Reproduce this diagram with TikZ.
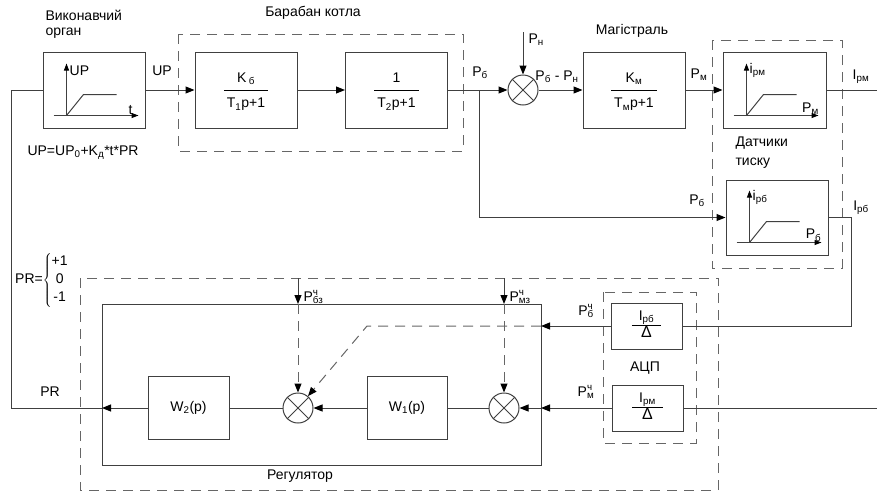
\documentclass[tikz,border=0pt]{standalone}
\usepackage{fontspec}
\setmainfont{Liberation Sans}
\usetikzlibrary{arrows.meta}

\setlength{\arrayrulewidth}{1pt}
\newcommand{\ind}[1]{\textsubscript{#1}}
\newcommand{\pch}[1]{P\rlap{\textsuperscript{ч}}\textsubscript{#1}}
\newcommand{\drib}[2]{{\renewcommand{\arraystretch}{1.55}%
  \begin{tabular}{@{\hspace{3pt}}c@{\hspace{3pt}}}#1\\\hline #2\end{tabular}}}
\newcommand{\acp}[1]{{\renewcommand{\arraystretch}{0.9}%
  \begin{tabular}{@{\hspace{7pt}}c@{\hspace{7pt}}}I\ind{#1}\\\hline\rule{0pt}{12pt}{\fontsize{16}{16}\selectfont Δ}\end{tabular}}}
% grafik v bloku: #1 blok, #2 vis y, #3 vis x
\newcommand{\grafik}[3]{%
  \begin{scope}[shift={(#1.south west)}]
    \draw[lin,-{Triangle[length=7pt,width=5pt,color=black]}] (11,-13) -- (96,-13);
    \draw[lin,-{Triangle[length=7pt,width=5pt,color=black]}] (24,-13) -- (24,-65);
    \draw[lin] (24,-13) -- (41,-34) -- (74,-34);
    \node[anchor=west,inner sep=1pt] at (26,-58) {#2};
    \node[anchor=south,inner sep=1pt] at (88,-13) {#3};
  \end{scope}}

\begin{document}
\begin{tikzpicture}[x=1pt,y=-1pt,font=\fontsize{14}{16}\selectfont,
  lin/.style={draw=black!75,line width=1pt},
  zv/.style={lin,-{Triangle[length=9pt,width=7pt,color=black]}},
  blok/.style={lin,minimum width=102pt,minimum height=76pt,inner sep=0pt},
  blokw/.style={lin,minimum width=81pt,minimum height=63pt,inner sep=0pt},
  blokc/.style={lin,minimum width=71pt,minimum height=46pt,inner sep=0pt},
  sum/.style={lin,circle,minimum size=30pt,inner sep=0pt},
  ramka/.style={draw=black!60,line width=1pt,dash pattern=on 10pt off 7pt},
  shtrih/.style={zv,draw=black!60,dash pattern=on 10pt off 7pt}]
\useasboundingbox (0,0) rectangle (877,493);

% ramky
\draw[ramka] (178,34) rectangle (463,151);
\draw[ramka] (712,40) rectangle (842,268);
\draw[ramka] (80,278) rectangle (718,490);
\draw[ramka] (603,292) rectangle (696,443);
\draw[lin] (102,304) rectangle (541,465);

% ob'ekt
\node[blok] (vo) at (94,90) {};
\node[blok] (k1) at (246,90) {\drib{K\,\ind{б}}{T\ind{1}p+1}};
\node[blok] (k2) at (396.5,90) {\drib{1}{T\ind{2}p+1}};
\node[sum] (s1) at (523,90) {};
\node[blok] (mg) at (634,90) {\drib{K\ind{м}}{T\ind{м}p+1}};
\node[blok,minimum width=103pt] (d1) at (774.5,90) {};
\node[blok,minimum height=75pt] (d2) at (777,217.5) {};
\grafik{vo}{UP}{t}
\grafik{d1}{i\ind{рм}}{P\ind{м}}
\grafik{d2}{i\ind{рб}}{P\ind{б}}

% regulator
\node[blokw] (w2) at (188.5,408) {W\ind{2}(p)};
\node[sum] (s2) at (298,408) {};
\node[blokw,minimum width=80pt] (w1) at (407,408) {W\ind{1}(p)};
\node[sum] (s3) at (504,408) {};
\node[blokc] (a1) at (646.5,326) {\acp{рб}};
\node[blokc] (a2) at (647.5,408) {\acp{рм}};
\foreach \s in {s1,s2,s3}
  \draw[lin] (\s.north east) -- (\s.south west) (\s.north west) -- (\s.south east);

\coordinate (br) at (479,90);
\coordinate (pn) at (523,32);
\coordinate (out1) at (877,90);
\coordinate (out2) at (877,408);
\coordinate (kr) at (851,326);
\coordinate (vx1) at (541,326);
\coordinate (vx2) at (541,408);
\coordinate (vx3) at (102,408);
\coordinate (kl) at (11,408);
\coordinate (kd) at (367,326);
\coordinate (zb) at (298,278);
\coordinate (vb) at (298,304);
\coordinate (zm) at (504,278);
\coordinate (vm) at (504,304);

% zv'iazky
\draw[zv] (vo) -- (k1);
\draw[zv] (k1) -- (k2);
\draw[zv] (k2) -- (s1);
\draw[zv] (pn) -- (s1);
\draw[zv] (s1) -- (mg);
\draw[zv] (mg) -- (d1);
\draw[lin] (d1) -- (out1);
\draw[zv] (br) |- (d2);
\draw[lin] (d2) -| (kr) -- (a1);
\draw[lin] (out2) -- (a2);
\draw[zv] (a1) -- (vx1);
\draw[zv] (a2) -- (vx2);
\draw[zv] (vx2) -- (s3);
\draw[lin] (s3) -- (w1);
\draw[zv] (w1) -- (s2);
\draw[lin] (s2) -- (w2);
\draw[zv] (w2) -- (vx3);
\draw[lin] (vx3) -- (kl) |- (vo);
\draw[zv] (zb) -- (vb);
\draw[zv] (zm) -- (vm);
\draw[shtrih] (vb) -- (s2);
\draw[shtrih] (vm) -- (s3);
\draw[shtrih] (vx1) -- (kd) -- (s2);

% pidpysy
\node[anchor=west,align=left,font=\fontsize{14}{15}\selectfont] at (42,24) {Виконавчий\\орган};
\node at (313,13) {Барабан котла};
\node at (632,31) {Магістраль};
\node[anchor=west,align=left,font=\fontsize{14}{19}\selectfont] at (732,153) {Датчики\\тиску};
\node at (162,71) {UP};
\node[anchor=west] at (24,153) {UP=UP\ind{0}+K\ind{д}*t*PR};
\node at (480,73) {P\ind{б}};
\node[anchor=west] at (525,40) {P\ind{н}};
\node at (557,77) {P\ind{б} - P\ind{н}};
\node at (699,75) {P\ind{м}};
\node at (861,77) {I\ind{рм}};
\node at (697,201) {P\ind{б}};
\node at (861,208) {I\ind{рб}};
\node[anchor=west,inner sep=0pt] at (15,280) {PR=$\left\{\renewcommand{\arraystretch}{1.12}\begin{tabular}{@{}c@{}}+1\\0\\-1\end{tabular}\right.$};
\node at (50,392) {PR};
\node[anchor=west] at (300,297) {\pch{бз}};
\node[anchor=west] at (506,297) {\pch{мз}};
\node at (586,311) {\pch{б}};
\node at (586,392) {\pch{м}};
\node at (645,368) {АЦП};
\node at (300,476) {Регулятор};
\end{tikzpicture}
\end{document}
